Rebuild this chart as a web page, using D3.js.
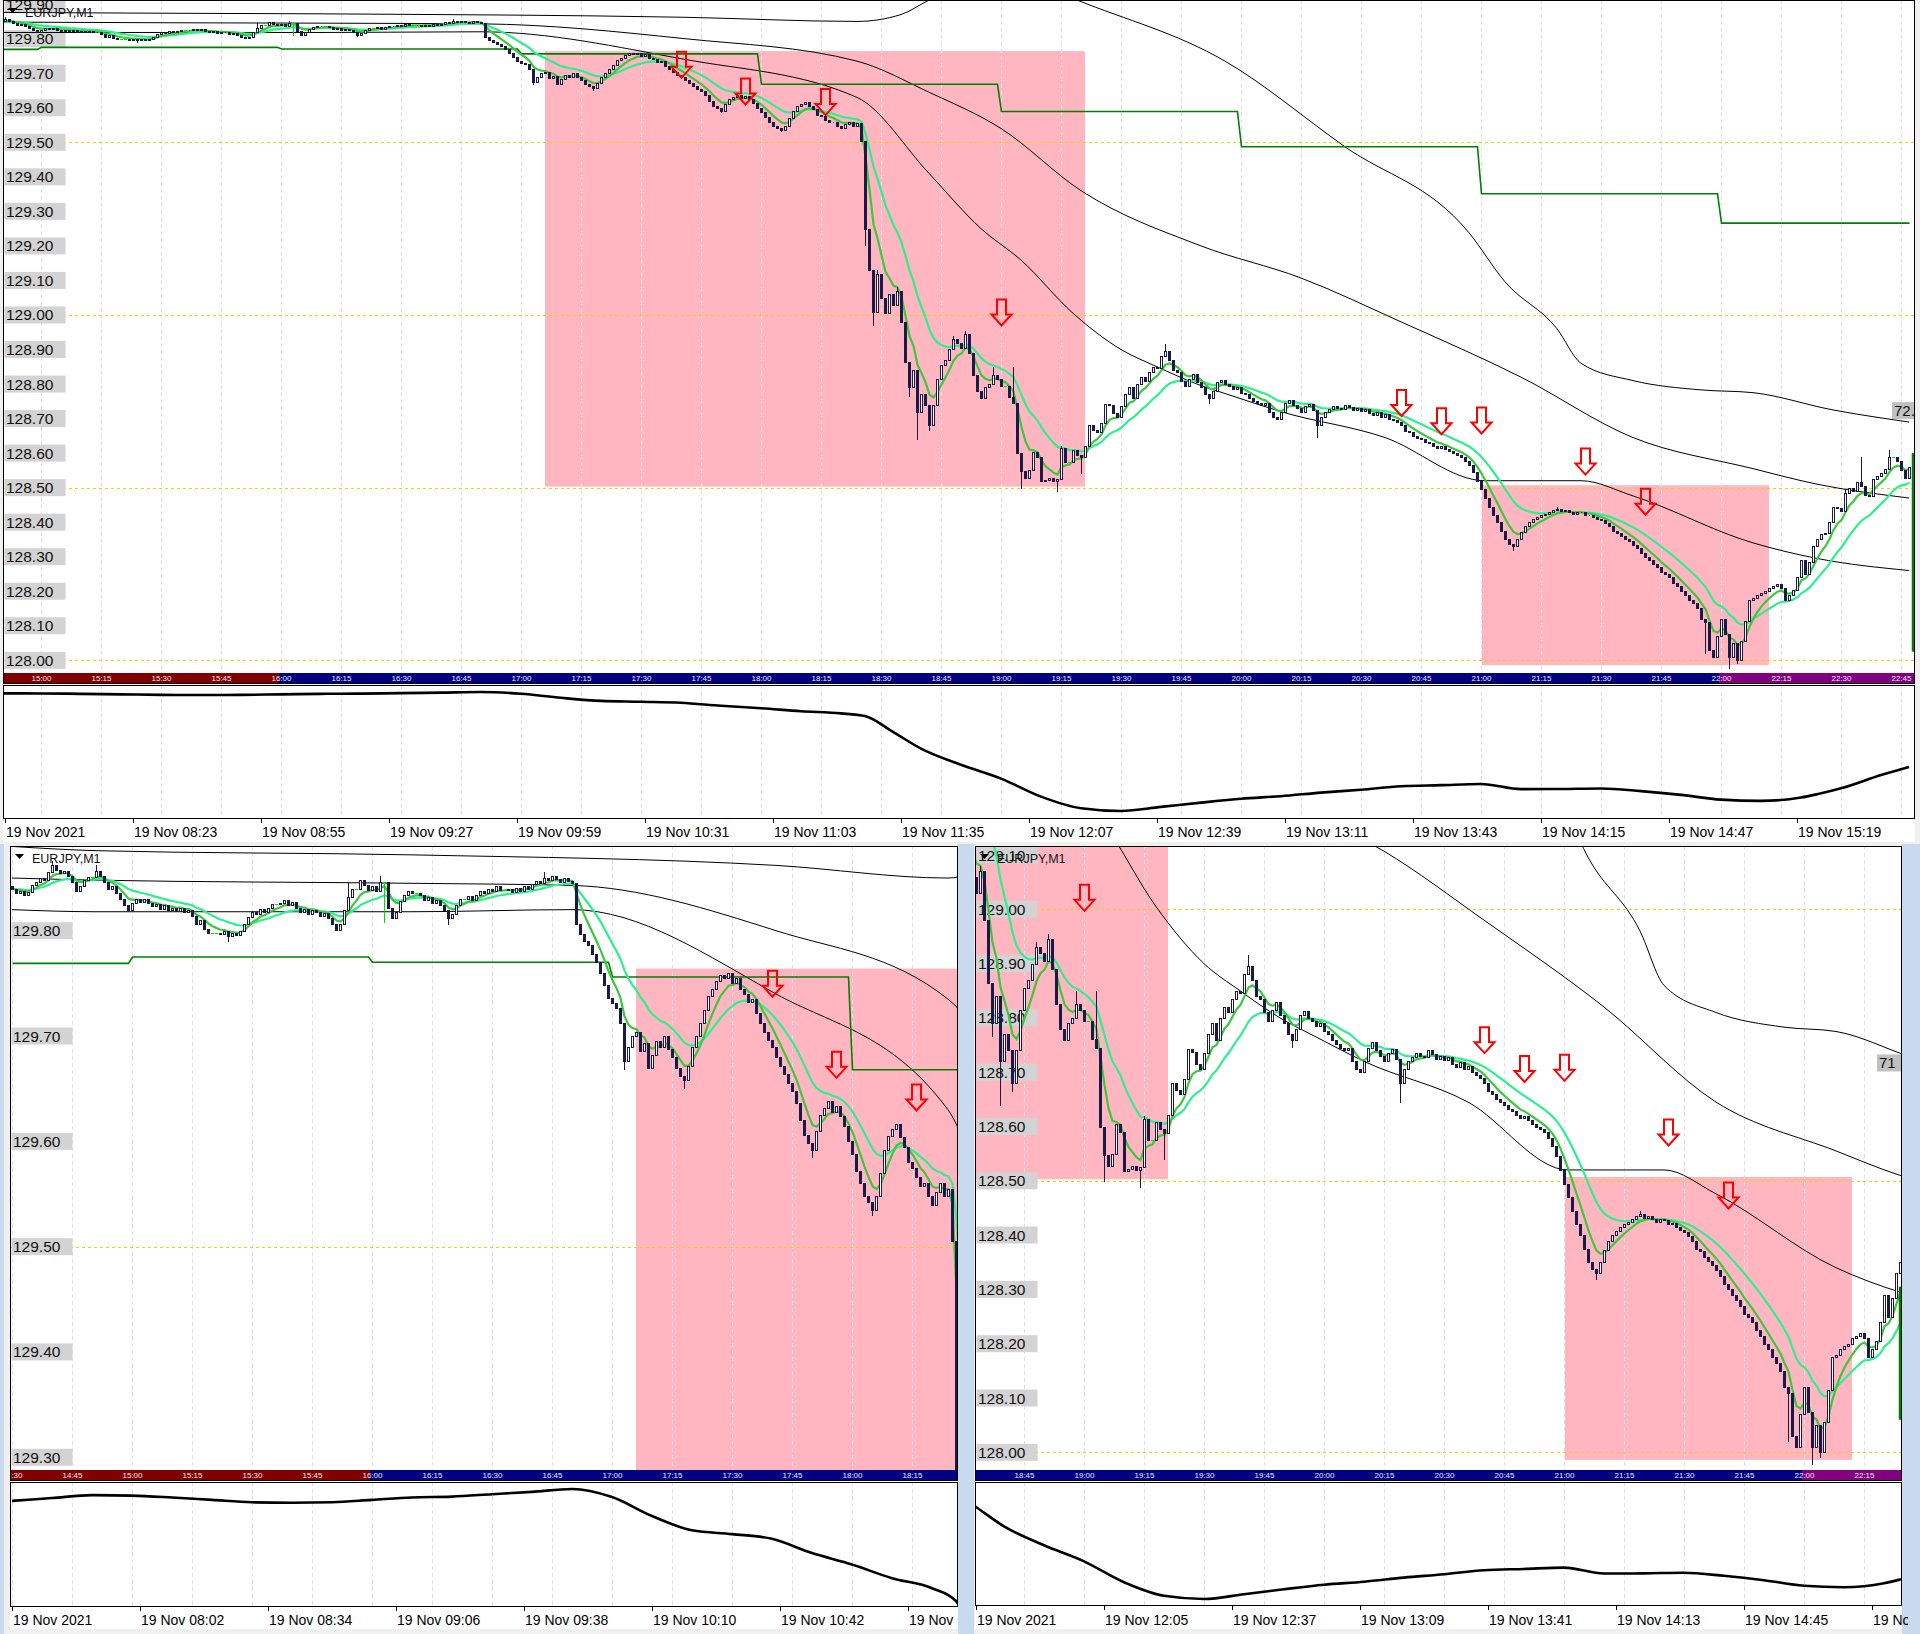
<!DOCTYPE html>
<html><head><meta charset="utf-8">
<script src="https://cdn.jsdelivr.net/npm/d3@7"></script>
<style>body{margin:0;background:#f0f0f0;}svg{display:block;}</style>
</head><body>
<svg id="chart" width="1920" height="1634"></svg>
<script>
// ===================== DATA =====================
const symbolTitle = "EURJPY,M1";
const firstBarLocal = "14:30";      // local time of bar j=0 (one bar per minute)
const serverOffsetHours = 7;        // bottom axis shows server time = local - 7h
const dateLabel = "19 Nov 2021";
const dayLabel = "19 Nov";
const firstOpen = 129.842;

// closes, one per 1-minute bar, j = 0..497 (14:30 .. 22:47 local)
const closes = [
129.840,129.836,129.838,129.834,129.837,129.843,129.846,129.850,129.848,129.856,
129.862,129.858,129.855,129.857,129.852,129.846,129.838,129.842,129.848,129.851,
129.851,129.857,129.852,129.846,129.840,129.842,129.836,129.830,129.824,129.820,
129.826,129.830,129.827,129.830,129.826,129.823,129.825,129.821,129.824,129.820,
129.822,129.819,129.822,129.818,129.820,129.814,129.806,129.810,129.802,129.798,
129.798,129.798,129.797,129.800,129.795,129.798,129.796,129.800,129.806,129.813,
129.818,129.816,129.821,129.818,129.822,129.825,129.825,129.826,129.829,129.824,
129.827,129.822,129.818,129.821,129.816,129.820,129.818,129.814,129.817,129.812,
129.806,129.801,129.806,129.820,129.832,129.840,129.840,129.848,129.843,129.839,
129.842,129.838,129.846,129.846,129.822,129.812,129.818,129.828,129.834,129.838,
129.836,129.836,129.834,129.829,129.832,129.826,129.829,129.824,129.820,129.812,
129.816,129.824,129.830,129.830,129.833,129.829,129.834,129.838,129.836,129.840,
129.838,129.842,129.839,129.839,129.840,129.837,129.841,129.838,129.842,129.840,
129.844,129.847,129.845,129.850,129.848,129.852,129.849,129.846,129.850,129.847,
129.845,129.806,129.797,129.790,129.786,129.778,129.770,129.760,129.748,129.736,
129.731,129.727,129.712,129.676,129.690,129.700,129.704,129.686,129.693,129.670,
129.682,129.695,129.690,129.700,129.688,129.680,129.670,129.662,129.658,129.672,
129.690,129.700,129.712,129.725,129.738,129.745,129.752,129.758,129.755,129.760,
129.750,129.755,129.745,129.740,129.732,129.735,129.722,129.712,129.704,129.696,
129.690,129.680,129.672,129.664,129.655,129.648,129.636,129.620,129.606,129.598,
129.592,129.610,129.625,129.632,129.638,129.628,129.634,129.624,129.615,129.600,
129.588,129.572,129.560,129.548,129.542,129.535,129.548,129.570,129.592,129.605,
129.612,129.616,129.604,129.595,129.580,129.575,129.566,129.558,129.560,129.548,
129.540,129.552,129.560,129.548,129.555,129.505,129.250,129.130,129.010,129.120,
129.050,129.005,129.060,129.030,129.070,128.980,128.865,128.790,128.840,128.720,
128.770,128.740,128.680,128.740,128.815,128.855,128.870,128.900,128.930,128.920,
128.905,128.945,128.890,128.826,128.780,128.760,128.790,128.800,128.825,128.815,
128.795,128.795,128.762,128.745,128.600,128.548,128.527,128.550,128.604,128.590,
128.518,128.522,128.528,128.520,128.525,128.614,128.575,128.575,128.608,128.595,
128.588,128.622,128.680,128.668,128.660,128.688,128.743,128.738,128.715,128.705,
128.735,128.770,128.790,128.760,128.800,128.820,128.810,128.835,128.850,128.845,
128.880,128.895,128.870,128.840,128.835,128.810,128.795,128.815,128.830,128.805,
128.790,128.770,128.760,128.780,128.805,128.812,128.800,128.795,128.785,128.790,
128.775,128.770,128.760,128.752,128.745,128.740,128.745,128.720,128.705,128.700,
128.720,128.745,128.755,128.740,128.730,128.720,128.735,128.742,128.725,128.680,
128.705,128.720,128.728,128.735,128.730,128.728,128.740,128.733,128.725,128.730,
128.722,128.728,128.715,128.710,128.718,128.705,128.712,128.700,128.695,128.690,
128.680,128.665,128.660,128.650,128.645,128.640,128.633,128.628,128.622,128.615,
128.620,128.612,128.605,128.600,128.595,128.590,128.578,128.565,128.545,128.520,
128.495,128.470,128.445,128.420,128.400,128.375,128.350,128.338,128.330,128.350,
128.372,128.390,128.400,128.408,128.415,128.420,128.425,128.430,128.435,128.438,
128.432,128.436,128.430,128.425,128.430,128.428,128.420,128.422,128.415,128.410,
128.405,128.398,128.390,128.375,128.370,128.360,128.352,128.345,128.335,128.325,
128.310,128.300,128.290,128.280,128.270,128.255,128.250,128.240,128.225,128.215,
128.200,128.190,128.175,128.165,128.150,128.120,128.110,128.030,128.010,128.070,
128.120,128.075,128.010,128.050,128.000,128.055,128.115,128.175,128.180,128.190,
128.195,128.200,128.210,128.215,128.220,128.210,128.175,128.190,128.205,128.240,
128.290,128.250,128.285,128.330,128.350,128.365,128.370,128.400,128.445,128.440,
128.432,128.485,128.500,128.490,128.515,128.505,128.480,128.475,128.525,128.535,
128.543,128.555,128.590,128.590,128.578,128.550,128.528,128.560
];
// notable wick extremes: [bar, price]
const wickHighs = [[10,129.866],[21,129.862],[84,129.846],[92,129.852],[133,129.856],[239,129.13],[244,129.08],
  [258,128.94],[261,128.955],[268,128.85],[273,128.85],[285,128.62],[311,128.915],[409,128.445],[481,128.495],[485,128.59],[492,128.61]];
const wickLows = [[54,129.79],[93,129.808],[109,129.806],[153,129.668],[168,129.65],[200,129.585],[215,129.53],
  [236,129.20],[238,128.97],[247,128.765],[249,128.638],[252,128.665],[275,128.498],[284,128.488],[290,128.54],
  [322,128.745],[349,128.645],[398,128.318],[446,128.02],[452,127.977],[454,127.99]];

// moving averages (periods)
const fastPeriod = 6, slowPeriod = 17;

// Bollinger-type envelope lines: [bar, price]
const bandUpper = [[0,129.880],[21,129.876],[100,129.872],[191,129.862],[234,129.850],[245,129.870],[252,129.912],
  [270,130.000],[289,129.912],[326,129.735],[356,129.487],[387,129.238],[396,129.096],[409,128.960],[415,128.860],
  [428,128.810],[445,128.783],[458,128.775],[478,128.725],[497,128.690]];
const bandMiddle = [[0,129.850],[21,129.848],[100,129.845],[140,129.843],[191,129.800],[234,129.735],[252,129.645],
  [270,129.540],[290,129.360],[320,129.200],[345,129.107],[370,128.980],[400,128.820],[428,128.645],
  [458,128.555],[474,128.510],[497,128.470]];
const bandLower = [[0,129.820],[21,129.818],[100,129.818],[140,129.820],[191,129.740],[234,129.630],[252,129.410],
  [265,129.250],[275,129.159],[288,129.005],[300,128.900],[309,128.850],[319,128.800],[328,128.765],[340,128.720],
  [366,128.645],[391,128.520],[415,128.520],[428,128.476],[458,128.340],[474,128.295],[497,128.260]];

// hourly level (dark green step line): starting bar, level
const hourlyLevel = [[0,129.769],[30,129.775],[90,129.770],[150,129.756],[210,129.668],[270,129.589],[330,129.487],[390,129.351],[450,129.266]];

// shaded zones: bars from..to, price lo..hi
const zones = [{from:156, to:291, lo:128.503, hi:129.764},{from:390.25, to:462, lo:127.986, hi:128.507}];

// sell arrows: [bar, price at arrow top]
const sellArrows = [[190,129.762],[206,129.685],[226,129.654],[270,129.045],[370,128.783],[380,128.730],[390,128.732],[416,128.613],[431,128.497]];

// sub-window oscillator: [bar, value]
const oscillator = [[0,115.8],[10,116.4],[20,117.0],[30,116.9],[40,116.5],[50,116.0],[60,115.5],[70,115.4],[80,115.5],
  [90,116.0],[100,116.5],[110,116.7],[120,117.2],[130,117.7],[140,118.3],[150,116.6],[160,112.6],[170,109.6],[180,108.8],
  [190,107.8],[200,104.8],[210,102.4],[220,99.5],[230,97.4],[236,94.7],[243,79.2],[250,62.9],[260,47.0],[270,33.5],
  [280,15.9],[290,4.5],[300,1.8],[310,5.8],[320,10.0],[330,13.8],[340,16.3],[350,19.8],[360,22.6],[370,26.0],[380,27.1],
  [390,28.2],[400,23.2],[410,23.4],[420,23.9],[430,21.3],[440,17.6],[450,12.9],[460,11.7],[470,15.0],[474,18.2],
  [480,24.0],[490,37.0],[497,45.0]];

// session colour bands (local time)
const sessions = [["14:30","#800000"],["16:00","#000080"],["22:00","#800080"]];

// ===================== LAYOUT =====================
const BAR = 4;
const panels = [
 {id:"top", x0:3, x1:1914, yTop:0, bandY:673, bandH:10, indTop:685, indBottom:818, labelBase:837,
  jRef:21, xRef:5, pDom:[128,129.5], pRng:[660.3,142.3], indPad:[7,7], axisExtra:4,
  tag:{text:"72.", price:128.723, w:22}, edge:[128.025,128.60], bg:[0,842]},
 {id:"bl", x0:10, x1:957, yTop:846, bandY:1470, bandH:10, indTop:1482, indBottom:1606, labelBase:1625,
  jRef:0, xRef:12, pDom:[129.3,129.8], pRng:[1457.3,930.7], indPad:[7,5], axisExtra:0, bg:[846,1629]},
 {id:"br", x0:975, x1:1901, yTop:846, bandY:1470, bandH:10, indTop:1482, indBottom:1605, labelBase:1625,
  jRef:243, xRef:976, pDom:[128,129], pRng:[1452.3,909.3], indPad:[25,6], axisExtra:6,
  tag:{text:"71", price:128.717, w:24}, edge:[128.06,128.305], bg:[846,1629]}
];

const CANDLE = "#1a1a48", DOJI = "#00e000";
const FONT = "'Liberation Sans', Arial, sans-serif";
const NARROW = "'Liberation Sans Narrow', 'Liberation Sans', Arial, sans-serif";

// ===================== DERIVED =====================
const startMin = (+firstBarLocal.slice(0,2))*60 + (+firstBarLocal.slice(3));
const hhmm = m => { m = ((m%1440)+1440)%1440; return String(Math.floor(m/60)).padStart(2,"0")+":"+String(m%60).padStart(2,"0"); };
const toMin = s => (+s.slice(0,2))*60 + (+s.slice(3));
const N = closes.length;
const opens = closes.map((c,i)=> i===0 ? firstOpen : closes[i-1]);
const highs = closes.map((c,i)=> Math.max(c, opens[i]));
const lows = closes.map((c,i)=> Math.min(c, opens[i]));
wickHighs.forEach(([j,p])=>{ highs[j] = Math.max(highs[j], p); });
wickLows.forEach(([j,p])=>{ lows[j] = Math.min(lows[j], p); });
function ema(arr, n){ const a = 2/(n+1); let prev = arr[0]; return arr.map((v,i)=> (prev = i===0 ? v : prev + a*(v-prev))); }
const emaFast = ema(closes, fastPeriod), emaSlow = ema(closes, slowPeriod);
function levelAt(j){ let v = hourlyLevel[0][1]; hourlyLevel.forEach(([s,l])=>{ if (j>=s) v=l; }); return v; }
const bars = d3.range(N);

// ===================== DRAW =====================
const svg = d3.select("#chart");
const defs = svg.append("defs");
svg.append("rect").attr("width",1920).attr("height",1634).attr("fill","#f0f0f0");
svg.append("rect").attr("x",958).attr("y",844).attr("width",16).attr("height",790).attr("fill","#c9d9ee");
svg.append("rect").attr("x",1902).attr("y",844).attr("width",18).attr("height",790).attr("fill","#c9d9ee");
svg.append("rect").attr("x",0).attr("y",844).attr("width",4).attr("height",790).attr("fill","#c9d9ee");

function arrowPath(cx, ty){
  return `M${cx-4.5},${ty} L${cx+4.5},${ty} L${cx+4.5},${ty+15} L${cx+10},${ty+15} L${cx},${ty+26} L${cx-10},${ty+15} L${cx-4.5},${ty+15} Z`;
}

panels.forEach(P => {
  const x = d3.scaleLinear().domain([P.jRef, P.jRef+100]).range([P.xRef, P.xRef+100*BAR]);
  const y = d3.scaleLinear().domain(P.pDom).range(P.pRng);
  const X = j => Math.round(x(j));
  const jMin = Math.floor(x.invert(P.x0))-1, jMax = Math.ceil(x.invert(P.x1))+1;
  const vis = bars.filter(j => j>=Math.max(0,jMin) && j<=Math.min(N-1,jMax));
  const g = svg.append("g");
  g.append("rect").attr("x",P.x0).attr("y",P.bg[0]).attr("width",P.x1-P.x0+1).attr("height",P.bg[1]-P.bg[0]).attr("fill","#fff");

  const clipId = "clip-"+P.id;
  defs.append("clipPath").attr("id",clipId).append("rect")
    .attr("x",P.x0+1).attr("y",P.yTop+1).attr("width",P.x1-P.x0-1).attr("height",P.bandY-P.yTop-1);
  const pg = g.append("g").attr("clip-path",`url(#${clipId})`);

  zones.forEach(z => pg.append("rect").attr("x",x(z.from)).attr("y",y(z.hi))
    .attr("width",x(z.to)-x(z.from)).attr("height",y(z.lo)-y(z.hi)).attr("fill","#ffb6c1"));

  const gridJ = d3.range(Math.max(jMin,-30), jMax+1).filter(j => (startMin+j)%15===0);
  gridJ.forEach(j => pg.append("line").attr("x1",X(j)+0.5).attr("x2",X(j)+0.5).attr("y1",P.yTop).attr("y2",P.bandY)
    .attr("stroke","#e0e0ec").attr("stroke-dasharray","4,3"));

  const pTop = y.invert(P.yTop), pBot = y.invert(P.bandY);
  const lvls = d3.range(Math.ceil(pBot*2), Math.floor(pTop*2)+1).map(k=>k/2);
  lvls.forEach(p => pg.append("line").attr("x1",P.x0).attr("x2",P.x1).attr("y1",Math.round(y(p))+0.5).attr("y2",Math.round(y(p))+0.5)
    .attr("stroke","#ffcc00").attr("stroke-dasharray","3,3"));

  const labs = d3.range(Math.ceil(pBot*10-0.3), Math.floor(pTop*10+0.3)+1).map(k=>k/10);
  labs.forEach(p => {
    const yy = y(p);
    pg.append("rect").attr("x",P.x0+1.5).attr("y",yy-8.5).attr("width",61).attr("height",17).attr("fill","#d3d3d3");
    pg.append("text").attr("x",P.x0+3).attr("y",yy+5.5).attr("font-family",FONT).attr("font-size",15.5).attr("fill","#111").text(p.toFixed(2));
  });

  [bandUpper, bandMiddle, bandLower].forEach(arr => {
    pg.append("path").attr("d", d3.line().x(d=>x(d[0])).y(d=>y(d[1])).curve(d3.curveMonotoneX)(arr))
      .attr("fill","none").attr("stroke","#000").attr("stroke-width",1);
  });

  pg.append("path").attr("d", d3.line().x(j=>X(j)+0.5).y(j=>y(levelAt(j)))(vis))
    .attr("fill","none").attr("stroke","#008000").attr("stroke-width",1.6);

  pg.append("path").attr("d", d3.line().x(j=>x(j)+0.5).y(j=>y(emaSlow[j]))(vis)).attr("fill","none").attr("stroke","#2cf08e").attr("stroke-width",2.2);
  pg.append("path").attr("d", d3.line().x(j=>x(j)+0.5).y(j=>y(emaFast[j]))(vis)).attr("fill","none").attr("stroke","#3cc83c").attr("stroke-width",2.2);

  const cg = pg.append("g").attr("shape-rendering","crispEdges");
  vis.forEach(j => {
    const cx = X(j), o = opens[j], c = closes[j];
    const doji = Math.abs(o-c) < 1e-9;
    const col = doji ? DOJI : CANDLE;
    cg.append("line").attr("x1",cx+0.5).attr("x2",cx+0.5).attr("y1",y(highs[j])).attr("y2",y(lows[j])+0.5).attr("stroke",col);
    if (doji) {
      cg.append("line").attr("x1",cx-1).attr("x2",cx+2).attr("y1",Math.round(y(c))+0.5).attr("y2",Math.round(y(c))+0.5).attr("stroke",DOJI);
    } else {
      const yt = Math.round(y(Math.max(o,c)))+0.5, yb = Math.round(y(Math.min(o,c)))+0.5;
      cg.append("rect").attr("x",cx-0.5).attr("y",yt).attr("width",2).attr("height",Math.max(0,yb-yt))
        .attr("fill", c>o ? "#fff" : CANDLE).attr("stroke",CANDLE).attr("stroke-width",1);
    }
  });

  sellArrows.forEach(([j,p]) => pg.append("path").attr("d", arrowPath(X(j)+0.5, y(p))).attr("fill","none").attr("stroke","#ff0000").attr("stroke-width",2));

  if (P.tag) {
    pg.append("rect").attr("x",P.x1-P.tag.w).attr("y",y(P.tag.price)-8.5).attr("width",P.tag.w+4).attr("height",17).attr("fill","#c0c0c0");
    pg.append("text").attr("x",P.x1-P.tag.w+2).attr("y",y(P.tag.price)+5.5).attr("font-family",FONT).attr("font-size",15).attr("fill","#111").text(P.tag.text);
  }
  if (P.edge) {
    pg.append("line").attr("x1",P.x1-1).attr("x2",P.x1-1).attr("y1",y(P.edge[1])).attr("y2",y(P.edge[0])).attr("stroke","#008000").attr("stroke-width",2.5);
  }

  g.append("path").attr("d",`M${P.x0+5},${P.yTop+8} L${P.x0+14},${P.yTop+8} L${P.x0+9.5},${P.yTop+13} Z`).attr("fill","#000");
  g.append("text").attr("x",P.x0+22).attr("y",P.yTop+17).attr("font-family",FONT).attr("font-size",12.5).attr("fill","#111").text(symbolTitle);

  const bandClip = "bclip-"+P.id;
  defs.append("clipPath").attr("id",bandClip).append("rect").attr("x",P.x0+1).attr("y",P.bandY).attr("width",P.x1-P.x0-1).attr("height",P.bandH);
  const bg = g.append("g").attr("clip-path",`url(#${bandClip})`);
  sessions.forEach((s,i) => {
    const js = toMin(s[0]) - startMin;
    const je = i+1<sessions.length ? toMin(sessions[i+1][0]) - startMin : 2000;
    const xa = i===0 ? P.x0 : X(js)-2, xb = i+1<sessions.length ? X(je)-2 : P.x1;
    bg.append("rect").attr("x",xa).attr("y",P.bandY).attr("width",Math.max(0,xb-xa)).attr("height",P.bandH).attr("fill",s[1]);
  });
  gridJ.forEach(j => bg.append("text").attr("x",X(j)+0.5).attr("y",P.bandY+8).attr("text-anchor","middle")
    .attr("font-family",NARROW).attr("font-size",8).attr("fill","#e8e8f4").text(hhmm(startMin+j)));

  const ig = g.append("g");
  const indClip = "iclip-"+P.id;
  defs.append("clipPath").attr("id",indClip).append("rect").attr("x",P.x0+1).attr("y",P.indTop+1).attr("width",P.x1-P.x0-1).attr("height",P.indBottom-P.indTop-1);
  const igc = ig.append("g").attr("clip-path",`url(#${indClip})`);
  gridJ.forEach(j => igc.append("line").attr("x1",X(j)+0.5).attr("x2",X(j)+0.5).attr("y1",P.indTop).attr("y2",P.indBottom)
    .attr("stroke","#e0e0ec").attr("stroke-dasharray","4,3"));
  const jv0 = x.invert(P.x0), jv1 = x.invert(P.x1);
  const inView = oscillator.filter(d => d[0]>=jv0-1 && d[0]<=jv1+1);
  const oMin = d3.min(inView, d=>d[1]), oMax = d3.max(inView, d=>d[1]);
  const yo = d3.scaleLinear().domain([oMin,oMax]).range([P.indBottom-P.indPad[1], P.indTop+P.indPad[0]]);
  igc.append("path").attr("d", d3.line().x(d=>x(d[0])).y(d=>yo(d[1])).curve(d3.curveMonotoneX)(oscillator))
    .attr("fill","none").attr("stroke","#000").attr("stroke-width",2.6);

  const fr = g.append("g").attr("stroke","#000").attr("fill","none").attr("shape-rendering","crispEdges");
  fr.append("rect").attr("x",P.x0+0.5).attr("y",P.yTop+0.5).attr("width",P.x1-P.x0).attr("height",P.bandY+P.bandH-P.yTop);
  fr.append("rect").attr("x",P.x0+0.5).attr("y",P.indTop+0.5).attr("width",P.x1-P.x0).attr("height",P.indBottom-P.indTop);

  // time axis (server time), labels every 32 bars from the first fully visible bar
  const axClip = "aclip-"+P.id;
  defs.append("clipPath").attr("id",axClip).append("rect").attr("x",P.x0).attr("y",P.indBottom).attr("width",P.x1-P.x0+1+P.axisExtra).attr("height",30);
  const ag = g.append("g").attr("clip-path",`url(#${axClip})`);
  const first = Math.max(0, Math.ceil(jv0));
  for (let j=first, k=0; j<=jv1+1; j+=32, k++) {
    ag.append("line").attr("x1",X(j)+0.5).attr("x2",X(j)+0.5).attr("y1",P.indBottom).attr("y2",P.indBottom+5).attr("stroke","#000");
    const t = k===0 ? dateLabel : dayLabel+" "+hhmm(startMin+j-serverOffsetHours*60);
    ag.append("text").attr("x",X(j)+1).attr("y",P.labelBase).attr("font-family",FONT).attr("font-size",14).attr("fill","#000").text(t);
  }
});
</script>
</body></html>
